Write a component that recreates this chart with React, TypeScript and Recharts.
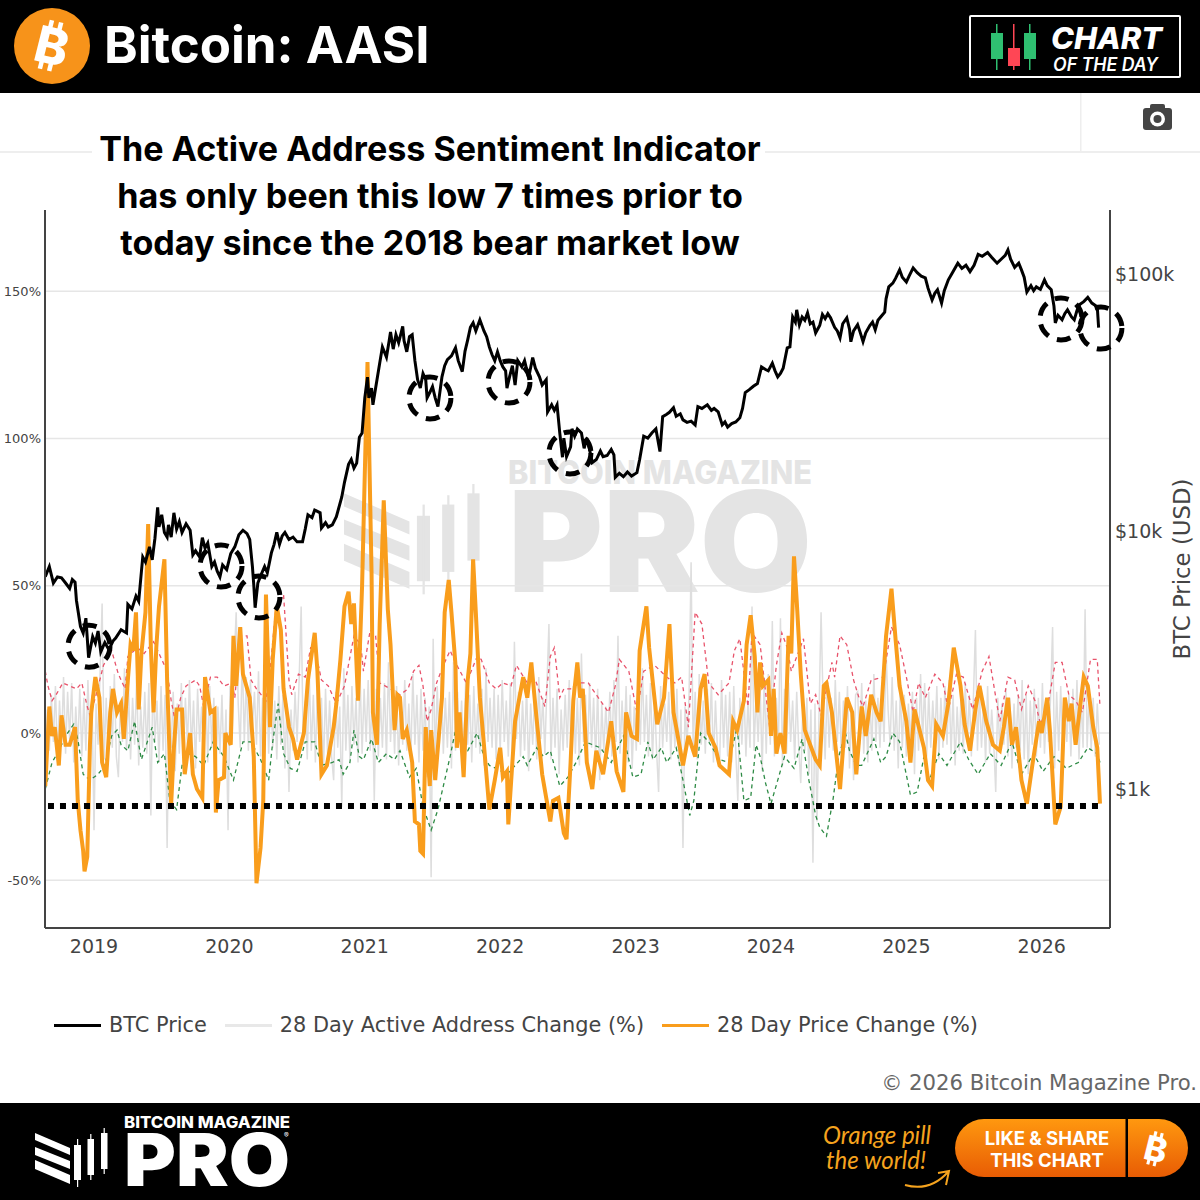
import React from "react";
import {
  ComposedChart,
  Line,
  XAxis,
  YAxis,
  CartesianGrid,
  ReferenceDot,
  Legend,
  Label,
} from "recharts";

const yearTicks = [2019, 2020, 2021, 2022, 2023, 2024, 2025, 2026];
const percentTicks = [-50, 0, 50, 100, 150];
const priceTicks = [1000, 10000, 100000];

// BTC price in thousands of USD
const btcPrice: [number, number][] = [
  [18.64, 6.67], [18.67, 7.3], [18.7, 6.3], [18.73, 6.65], [18.76, 6.6], [18.79, 6.3], [18.82, 6.0], [18.84, 6.5], [18.86, 6.35], [18.87, 5.4],
  [18.9, 4.27], [18.92, 4.03], [18.94, 4.6], [18.96, 3.23], [18.99, 3.9], [19.01, 3.68], [19.03, 4.1], [19.05, 3.4], [19.08, 3.7], [19.11, 3.47],
  [19.14, 3.75], [19.16, 3.85], [19.2, 4.15], [19.24, 4.03], [19.25, 5.2], [19.28, 5.0], [19.31, 5.6], [19.33, 5.35], [19.36, 7.95], [19.38, 7.6],
  [19.41, 8.7], [19.43, 7.75], [19.45, 9.4], [19.47, 12.4], [19.48, 10.4], [19.5, 11.6], [19.52, 9.9], [19.54, 9.5], [19.55, 10.6], [19.57, 9.5],
  [19.59, 11.8], [19.61, 10.2], [19.63, 10.9], [19.65, 9.9], [19.68, 10.7], [19.71, 10.1], [19.73, 8.1], [19.75, 8.4], [19.78, 7.95], [19.8, 9.45],
  [19.82, 8.6], [19.84, 9], [19.87, 7.3], [19.89, 7.6], [19.91, 7.0], [19.93, 6.65], [19.95, 7.4], [19.98, 7.1], [20.01, 8.2], [20.04, 8.7],
  [20.07, 9.7], [20.1, 10.1], [20.13, 9.8], [20.15, 9.3], [20.17, 7.3], [20.18, 6.2], [20.19, 5.05], [20.21, 6.3], [20.23, 6.7], [20.26, 7.3],
  [20.28, 6.9], [20.31, 8.25], [20.33, 8.9], [20.35, 9.9], [20.37, 8.9], [20.39, 9.6], [20.41, 9.9], [20.44, 9.3], [20.47, 9.5], [20.5, 9.1],
  [20.54, 9.1], [20.56, 10.2], [20.58, 11.6], [20.61, 11.3], [20.63, 12.1], [20.67, 11.8], [20.68, 10.3], [20.71, 10.8], [20.73, 10.4], [20.76, 10.6],
  [20.79, 11.4], [20.83, 13.6], [20.85, 15.5], [20.88, 18.2], [20.9, 19], [20.92, 17.6], [20.94, 18.4], [20.96, 23.2], [20.98, 24.1], [21.0, 33],
  [21.02, 39.7], [21.03, 33], [21.05, 36], [21.06, 31], [21.08, 36], [21.11, 45], [21.13, 52], [21.16, 47.5], [21.18, 55], [21.19, 59.5],
  [21.21, 51], [21.23, 58], [21.25, 54], [21.28, 62.5], [21.29, 55], [21.31, 49.8], [21.33, 57], [21.35, 58], [21.37, 46], [21.39, 38.8],
  [21.41, 36], [21.43, 41], [21.45, 38.8], [21.46, 33], [21.48, 34.6], [21.5, 36.5], [21.52, 33], [21.54, 30.5], [21.57, 39.8], [21.59, 44],
  [21.61, 46.4], [21.64, 48], [21.67, 51.6], [21.69, 46], [21.72, 41.7], [21.74, 50], [21.76, 55.4], [21.78, 62], [21.8, 64.5], [21.82, 60],
  [21.85, 66.3], [21.88, 60], [21.9, 57], [21.92, 52], [21.94, 48.5], [21.96, 46], [21.98, 49.8], [22.0, 46], [22.02, 43.5], [22.04, 42],
  [22.05, 36], [22.07, 40], [22.09, 44], [22.11, 37], [22.13, 46], [22.16, 43.5], [22.18, 46], [22.21, 39.5], [22.24, 47.3], [22.26, 43],
  [22.29, 39.8], [22.31, 37], [22.34, 38.8], [22.35, 29.1], [22.38, 31], [22.4, 29.5], [22.42, 31], [22.44, 24.1], [22.46, 19.4], [22.47, 23],
  [22.49, 19.5], [22.52, 21.3], [22.53, 25], [22.55, 23.4], [22.57, 25], [22.6, 24.1], [22.62, 21], [22.64, 23], [22.66, 20.8], [22.68, 18.5],
  [22.71, 19], [22.74, 20.5], [22.76, 19.5], [22.79, 19.7], [22.82, 20.8], [22.84, 19.8], [22.85, 16.2], [22.88, 16.8], [22.91, 16.3], [22.94, 17],
  [22.97, 16.4], [23.01, 16.9], [23.03, 19], [23.06, 23.4], [23.09, 23], [23.12, 24.1], [23.15, 25], [23.18, 20.4], [23.2, 27.9], [23.23, 28.5],
  [23.25, 29], [23.28, 30.2], [23.3, 28], [23.33, 28.6], [23.35, 27.1], [23.38, 26.5], [23.41, 26.8], [23.44, 25.9], [23.46, 30.5], [23.49, 30],
  [23.53, 31], [23.56, 29.5], [23.58, 30], [23.61, 29.1], [23.64, 25.9], [23.66, 26.6], [23.68, 25.4], [23.71, 26.2], [23.74, 26.6], [23.77, 27.6],
  [23.79, 30], [23.81, 34.6], [23.84, 35.5], [23.87, 36.6], [23.9, 37.5], [23.93, 43.5], [23.96, 42.5], [23.98, 42], [24.01, 45], [24.03, 42],
  [24.05, 39.8], [24.07, 41], [24.09, 43], [24.12, 51.6], [24.14, 52], [24.16, 68], [24.18, 65], [24.19, 72.5], [24.21, 63.4], [24.23, 68],
  [24.25, 66], [24.27, 70.5], [24.29, 64], [24.31, 65], [24.33, 59], [24.36, 63], [24.38, 69.5], [24.4, 67], [24.42, 70], [24.44, 67.5],
  [24.47, 62], [24.49, 60], [24.51, 56.4], [24.53, 64], [24.56, 67.5], [24.58, 61], [24.59, 54.5], [24.61, 60], [24.64, 63.5], [24.66, 59],
  [24.68, 54.5], [24.7, 59], [24.73, 63], [24.75, 65], [24.77, 60.6], [24.79, 66], [24.81, 68], [24.84, 71], [24.85, 80], [24.87, 89],
  [24.9, 92], [24.92, 96], [24.95, 103.6], [24.97, 97], [25, 93], [25.02, 98], [25.05, 105.5], [25.08, 101], [25.11, 98], [25.14, 96.5],
  [25.16, 88], [25.19, 79.2], [25.21, 84], [25.23, 86.7], [25.26, 77], [25.28, 86], [25.31, 94.8], [25.34, 101], [25.38, 110], [25.41, 105],
  [25.44, 108], [25.47, 102], [25.5, 108], [25.53, 119], [25.56, 117], [25.6, 121], [25.63, 116], [25.67, 110], [25.7, 114], [25.73, 118],
  [25.75, 124], [25.77, 114], [25.8, 106], [25.83, 110], [25.85, 103.6], [25.87, 97], [25.89, 85], [25.92, 90], [25.94, 86], [25.96, 89],
  [25.99, 87], [26.02, 94.8], [26.04, 90], [26.07, 86.7], [26.09, 75], [26.1, 64.5], [26.12, 69], [26.15, 66.3], [26.17, 70], [26.19, 72.5],
  [26.22, 68], [26.24, 66.3], [26.26, 72], [26.28, 76], [26.31, 78], [26.34, 81], [26.37, 77], [26.41, 74.5], [26.42, 61.8],
];

const priceChange: [number, number][] = [
  [18.64, -18], [18.67, 9], [18.69, -1], [18.71, 2], [18.74, -11], [18.76, 6], [18.79, -4], [18.82, -4], [18.86, 2], [18.88, -23],
  [18.9, -33], [18.92, -40], [18.93, -47], [18.95, -42], [18.97, -4], [18.98, 7], [19.01, 19], [19.04, 12], [19.06, -10], [19.09, -15],
  [19.12, 7], [19.14, 15], [19.17, 7], [19.2, 10], [19.22, -2], [19.25, 18], [19.27, 30], [19.29, 28], [19.31, 41], [19.33, 8],
  [19.35, 27], [19.38, 41], [19.4, 71], [19.42, 29], [19.44, 7], [19.46, 29], [19.48, 43], [19.52, 59], [19.54, 18], [19.57, -24],
  [19.59, -5], [19.61, 8], [19.65, 8], [19.67, -14], [19.71, 0], [19.73, -14], [19.76, -19], [19.8, -22], [19.82, 19], [19.86, 7],
  [19.89, 8], [19.9, -27], [19.92, -16], [19.96, -15], [19.97, 0], [20.01, -4], [20.03, 33], [20.05, 16], [20.08, 36], [20.1, 20],
  [20.15, 12], [20.18, -8], [20.2, -51], [20.23, -39], [20.25, -23], [20.27, 47], [20.3, 2], [20.32, 25], [20.35, 43], [20.38, 35],
  [20.4, 15], [20.44, 2], [20.47, -2], [20.5, -9], [20.55, 0], [20.58, 18], [20.63, 34], [20.65, 21], [20.68, -14], [20.72, -11],
  [20.77, 2], [20.79, 10], [20.82, 25], [20.85, 43], [20.88, 48], [20.9, 37], [20.92, 44], [20.95, 11], [20.98, 50], [21.02, 126],
  [21.05, 54], [21.06, 7], [21.09, -4], [21.11, 37], [21.14, 79], [21.17, 42], [21.19, 30], [21.22, 1], [21.24, 13], [21.26, 12],
  [21.28, -2], [21.31, 1], [21.35, -10], [21.37, -30], [21.4, -31], [21.41, -40], [21.43, -41], [21.45, 2], [21.48, -18], [21.49, 1],
  [21.52, -16], [21.57, 12], [21.59, 41], [21.62, 52], [21.64, 41], [21.67, 23], [21.68, -5], [21.7, 7], [21.73, -15], [21.76, 18],
  [21.78, 27], [21.8, 59], [21.82, 41], [21.85, 12], [21.88, -4], [21.92, -26], [21.96, -16], [22, -5], [22.02, -15], [22.05, -13],
  [22.06, -31], [22.11, 4], [22.17, 19], [22.2, 12], [22.23, 24], [22.26, 9], [22.31, -14], [22.34, -22], [22.37, -30], [22.39, -23],
  [22.43, -22], [22.47, -34], [22.49, -36], [22.52, -10], [22.54, 11], [22.57, 24], [22.59, 12], [22.61, 15], [22.64, -10], [22.68, -19],
  [22.71, -6], [22.76, -14], [22.82, 4], [22.86, -13], [22.91, -20], [22.93, 7], [22.97, -1], [23.01, -2], [23.03, 28], [23.08, 43],
  [23.1, 29], [23.16, 3], [23.21, 12], [23.25, 37], [23.28, 7], [23.3, 2], [23.35, -11], [23.39, -1], [23.44, -8], [23.48, 15],
  [23.51, 20], [23.54, 0], [23.59, -5], [23.62, -11], [23.69, -14], [23.72, 4], [23.75, 1], [23.8, 11], [23.82, 30], [23.85, 40],
  [23.88, 26], [23.9, 7], [23.92, 24], [23.94, 16], [23.98, 18], [24, -1], [24.02, 15], [24.04, -7], [24.07, 0], [24.1, -7],
  [24.13, 33], [24.15, 27], [24.17, 60], [24.19, 45], [24.22, 20], [24.25, 1], [24.29, -4], [24.33, -9], [24.36, -11], [24.39, 16],
  [24.41, 17], [24.45, 7], [24.51, -19], [24.56, 12], [24.6, 7], [24.63, -14], [24.67, 9], [24.7, -1], [24.74, 13], [24.78, 7],
  [24.81, 4], [24.85, 33], [24.89, 49], [24.92, 32], [24.95, 16], [25, 4], [25.03, -10], [25.06, 8], [25.13, -5], [25.16, -16],
  [25.19, -18], [25.22, 3], [25.27, -1], [25.31, 10], [25.35, 29], [25.4, 16], [25.43, 3], [25.47, -6], [25.51, 8], [25.54, 16],
  [25.59, 4], [25.64, -4], [25.69, -6], [25.72, 2], [25.75, 12], [25.78, -4], [25.81, 2], [25.85, -16], [25.89, -24], [25.93, -11],
  [25.98, 4], [26, 0], [26.04, 12], [26.06, 1], [26.1, -31], [26.14, -25], [26.17, 12], [26.2, 4], [26.22, 10], [26.25, -4],
  [26.27, 4], [26.31, 19], [26.34, 16], [26.38, 2], [26.41, -5], [26.43, -24],
];

// upper band of the indicator
const upperBand: [number, number][] = [
  [18.64, 21], [18.66, 16], [18.69, 11], [18.72, 13], [18.77, 17], [18.82, 16], [18.87, 15], [18.91, 17], [18.95, 9], [18.97, 6],
  [19.01, 12], [19.07, 23], [19.13, 28], [19.18, 20], [19.23, 15], [19.25, 26], [19.32, 29], [19.37, 27], [19.44, 31], [19.47, 28],
  [19.54, 21], [19.57, 11], [19.6, 4], [19.64, 12], [19.68, 16], [19.75, 18], [19.78, 16], [19.81, 9], [19.86, 19], [19.91, 19],
  [19.96, 16], [20.02, 17], [20.04, 12], [20.08, 33], [20.13, 33], [20.16, 18], [20.2, 15], [20.27, 11], [20.3, 21], [20.34, 41],
  [20.4, 47], [20.44, 18], [20.46, 13], [20.51, 20], [20.56, 19], [20.6, 29], [20.63, 29], [20.68, 18], [20.73, 16], [20.79, 10],
  [20.85, 16], [20.92, 33], [20.97, 30], [20.99, 21], [21.04, 35], [21.08, 33], [21.11, 17], [21.19, 15], [21.26, 13], [21.32, 15],
  [21.36, 21], [21.4, 23], [21.43, 16], [21.46, 4], [21.49, 8], [21.53, 17], [21.58, 23], [21.63, 28], [21.68, 23], [21.75, 17],
  [21.83, 26], [21.86, 25], [21.92, 17], [21.97, 15], [22.02, 17], [22.08, 16], [22.12, 23], [22.2, 17], [22.26, 18], [22.33, 9],
  [22.37, 26], [22.4, 29], [22.44, 12], [22.47, 15], [22.52, 15], [22.59, 17], [22.65, 17], [22.74, 11], [22.8, 7], [22.85, 16],
  [22.88, 25], [22.95, 21], [23.01, 7], [23.06, 21], [23.14, 23], [23.23, 19], [23.29, 17], [23.34, 19], [23.39, 2], [23.44, 41],
  [23.49, 37], [23.54, 17], [23.61, 13], [23.69, 17], [23.73, 28], [23.77, 32], [23.83, 9], [23.86, 34], [23.92, 30], [23.99, 2],
  [24.04, 23], [24.08, 34], [24.12, 29], [24.15, 21], [24.24, 32], [24.29, 10], [24.33, 13], [24.37, 6], [24.45, 24], [24.47, 19],
  [24.51, 33], [24.56, 30], [24.61, 18], [24.65, 12], [24.68, 9], [24.74, 18], [24.83, 19], [24.89, 36], [24.95, 30], [25, 19],
  [25.05, 7], [25.09, 17], [25.14, 12], [25.21, 20], [25.27, 17], [25.31, 8], [25.37, 20], [25.42, 19], [25.49, 8], [25.56, 21],
  [25.61, 26], [25.69, 4], [25.75, 19], [25.8, 18], [25.85, 8], [25.9, 16], [25.95, 11], [25.99, 3], [26.04, 8], [26.1, 24],
  [26.15, 24], [26.2, 13], [26.25, 11], [26.3, 7], [26.36, 25], [26.41, 25], [26.43, 9],
];

// lower band of the indicator
const lowerBand: [number, number][] = [
  [18.64, -19], [18.69, -10], [18.74, -6], [18.79, -1], [18.85, 3], [18.88, -2], [18.92, -14], [18.97, -16], [19.03, -14], [19.08, -11],
  [19.13, -1], [19.17, 1], [19.2, -4], [19.25, -6], [19.3, 4], [19.35, -9], [19.43, 2], [19.47, -10], [19.52, -7], [19.56, -23],
  [19.61, -26], [19.65, -11], [19.7, -7], [19.75, -8], [19.81, -11], [19.88, -3], [19.96, -8], [20.03, -16], [20.1, -3], [20.16, -3],
  [20.23, -9], [20.29, -16], [20.32, -3], [20.36, 10], [20.4, -7], [20.45, -12], [20.5, -13], [20.56, -3], [20.63, -3], [20.68, -11],
  [20.76, -10], [20.81, -9], [20.84, -14], [20.89, -10], [20.92, 1], [20.96, -8], [20.99, -9], [21.05, -2], [21.1, -10], [21.16, -7],
  [21.22, -9], [21.26, -6], [21.33, -15], [21.38, -12], [21.43, -25], [21.49, -33], [21.54, -26], [21.58, -18], [21.63, -8], [21.67, 1],
  [21.73, -5], [21.76, -6], [21.83, 0], [21.88, -8], [21.92, -11], [21.97, -12], [22.05, -14], [22.11, -11], [22.17, -8], [22.2, -11],
  [22.27, -5], [22.32, -8], [22.37, -6], [22.44, -18], [22.5, -15], [22.56, -10], [22.63, -3], [22.74, -5], [22.82, -10], [22.91, -1],
  [22.98, -15], [23.04, -14], [23.09, -3], [23.13, -9], [23.19, -5], [23.23, -10], [23.3, -5], [23.35, -16], [23.4, -28], [23.43, -23],
  [23.48, 0], [23.54, -3], [23.62, -9], [23.69, -10], [23.75, 2], [23.8, -23], [23.85, -22], [23.89, -4], [23.92, -8], [23.96, -17],
  [24, -24], [24.05, -16], [24.1, -8], [24.17, -12], [24.23, -2], [24.28, -16], [24.33, -28], [24.36, -32], [24.41, -35], [24.46, -22],
  [24.5, -8], [24.55, 0], [24.58, -6], [24.63, -11], [24.67, -11], [24.76, -2], [24.81, -10], [24.85, -8], [24.9, 0], [24.95, -3],
  [25.03, -21], [25.08, -20], [25.13, -8], [25.17, -16], [25.24, -7], [25.3, -11], [25.4, -3], [25.46, -9], [25.53, -14], [25.62, -7],
  [25.7, -11], [25.78, -3], [25.85, -14], [25.94, -7], [26.01, -13], [26.09, -8], [26.14, -10], [26.18, -12], [26.27, -10], [26.34, -5],
  [26.41, -7], [26.43, -10],
];

// one reading every 0.015 of a year from 18.64 on
const activeStart = 18.64;
const activeStep = 0.015;
const activeChange = [
  -12, 8, -6, 13, -3, 16, -9, 11, -4, 19, -7, 14, -2, 17, -10, 9, -5, 15, -8, 12,
  -6, 18, -3, 13, -33, 10, -4, 21, 44, -9, 12, -7, 16, -5, 20, -8, -15, 11, -3, 22,
  -6, 15, -9, 12, -4, 19, -11, 9, -5, 14, -7, 17, -28, 20, -3, 11, -10, 16, -6, 13,
  -39, 8, -5, 14, -13, 10, -7, 17, -9, 12, -4, 18, -6, 11, -12, 15, -3, 9, -8, 14,
  -10, 16, -5, 12, -15, 9, -7, 13, -11, 8, -33, 16, -2, 24, 41, 10, -5, 26, -3, 19,
  -6, 18, 2, 14, -4, 21, -8, 12, -3, 17, -7, 15, -5, 11, -9, 16, -4, 13, -12, 10,
  -20, 8, -6, 14, -3, 18, 43, -4, 11, -9, 20, -6, 13, -10, 17, -5, 12, -12, 15, -7,
  11, -8, -16, 14, -5, 9, -25, 22, -6, 13, -9, 16, -4, 12, -10, 20, -7, 15, -3, 18,
  -6, 14, -23, 15, -8, 12, -5, 17, -9, 24, -3, 13, -7, 16, -11, 12, -4, 18, -6, 10,
  -8, 20, -4, 13, -10, 15, -6, 12, -15, 9, -49, 32, -10, 16, -4, 19, -7, 12, -5, 14,
  -12, 24, -6, 14, -3, 11, -8, 18, -4, 13, -10, 16, -5, 10, -7, 15, -11, 22, -3, 12,
  -5, 15, -9, 13, -6, 18, -3, 11, -8, 17, -12, 31, -2, 14, -8, 11, -6, 16, -13, 10,
  -4, 14, -9, 19, -2, 12, -7, 16, 37, -9, 12, -5, 15, -14, 8, -6, 13, -5, 18, -10,
  16, -7, 12, -11, 27, -3, 13, -8, 17, -5, 12, -9, 15, -16, 10, -6, 9, -4, 14, -8,
  18, -3, 33, -7, 11, -5, 16, -10, 13, -12, 9, -6, 14, -4, 22, -3, 13, -8, 17, -9,
  12, -6, -20, 16, -5, 10, -3, 14, -9, 12, -5, 15, -11, 8, -39, 9, -4, 13, 58, -6,
  14, -9, 20, -4, 11, -7, 15, -3, 17, -10, 11, -6, -12, 18, -5, 13, -8, 14, -10, 16,
  -6, -23, 12, -4, 15, -8, 11, -5, 43, -6, 13, -3, 16, -13, 19, -7, 20, -4, 38, -8,
  12, -4, 39, -11, 15, -7, 17, -3, 11, -9, 14, -5, -17, 9, -6, 12, -14, 8, -44, 10,
  -30, 7, 41, 10, -9, 15, -5, 12, -6, 18, -3, 14, -8, 11, -5, 16, -12, 9, -16, 13,
  14, -4, 17, -7, 11, -10, 13, -6, 20, -3, 12, -5, 16, -3, 28, 8, -4, 19, -6, 11,
  -12, 15, -5, 13, -8, 10, -3, 14, -14, 12, -6, 20, -3, 17, -8, 14, -5, 11, -3, 16,
  -9, 12, -5, 16, -4, 18, -7, 13, -11, 9, -6, 14, -7, 17, -3, 13, -8, 12, 35, -6,
  14, -5, 11, -10, 16, -7, 8, -3, -20, 12, -6, 10, -4, 15, -8, 12, -12, 10, -5, 13,
  -6, 18, -9, 13, -14, 11, -4, 15, -8, 12, -5, 17, -7, 9, -3, 12, 36, -12, 14, -6,
  16, -7, 11, -3, 13, -8, 15, -4, 18, -9, 12, -5, 42, -5, 14, -6, 12, -8, 10, -4,
];

const floorLevel: [number, number][] = [[18.66, -24.8], [26.43, -24.8]];

// the eight lows ringed on the chart
const ringedLows: [number, number][] = [
  [18.963, 29.5], [19.938, 56.7], [20.218, 46.2], [21.481, 113.8],
  [22.065, 119.2], [22.515, 95.1], [26.142, 140.6], [26.437, 137.5],
];

const legendOrder = ["BTC Price", "28 Day Active Address Change (%)", "28 Day Price Change (%)"];
const headline = [
  "The Active Address Sentiment Indicator",
  "has only been this low 7 times prior to",
  "today since the 2018 bear market low",
];

const toRows = (list: [number, number][]) => list.map(([x, y]) => ({ x: 2000 + x, y }));
const priceRows = btcPrice.map(([x, y]) => ({ x: 2000 + x, y: y * 1000 }));
const activeRows = activeChange.map((y, i) => ({ x: 2000 + activeStart + i * activeStep, y }));

const SANS = "'DejaVu Sans'";
const HEAD = "Inter";
const AXIS_COLOR = "#444";

const ChartLegend = ({ payload }: any) => {
  const items = legendOrder.map((n) => (payload || []).find((p: any) => p.value === n)).filter(Boolean);
  return (
    <div style={{ display: "flex", gap: 18, alignItems: "center", fontFamily: SANS, fontSize: 20.85, color: AXIS_COLOR }}>
      {items.map((p: any) => (
        <div key={p.value} style={{ display: "flex", alignItems: "center", gap: 8 }}>
          <span style={{ width: 47, height: 3, background: p.color === "#dedede" ? "#e8e8e8" : p.color, display: "inline-block" }} />
          <span>{p.value}</span>
        </div>
      ))}
    </div>
  );
};

// stripes and candles of the logo, 72 wide and 59 high before scaling
const LogoMark = ({ x, y, scale, fill }: { x: number; y: number; scale: number; fill: string }) => (
  <g transform={`translate(${x} ${y}) scale(${scale})`} fill={fill}>
    <polygon points="0,5 35,20 35,27 0,12" />
    <polygon points="0,19 35,33 35,41 0,27" />
    <polygon points="0,32 35,47 35,56 0,41" />
    <rect x={39} y={17} width={7} height={35} />
    <rect x={42} y={11} width={1.2} height={48} />
    <rect x={52.5} y={11} width={6.5} height={36} />
    <rect x={55.2} y={6} width={1.2} height={46} />
    <rect x={66} y={5} width={6.5} height={36} />
    <rect x={68.6} y={0} width={1.2} height={46} />
  </g>
);

const BitcoinGlyph = ({ x, y, size }: { x: number; y: number; size: number }) => (
  <g transform={`translate(${x} ${y}) rotate(14)`} fill="#fff">
    <text x={0} y={size * 0.36} textAnchor="middle" fontFamily={HEAD} fontWeight={800} fontSize={size}>B</text>
    <rect x={-size * 0.17} y={-size * 0.5} width={size * 0.09} height={size * 0.16} />
    <rect x={size * 0.02} y={-size * 0.5} width={size * 0.09} height={size * 0.16} />
    <rect x={-size * 0.17} y={size * 0.34} width={size * 0.09} height={size * 0.16} />
    <rect x={size * 0.02} y={size * 0.34} width={size * 0.09} height={size * 0.16} />
  </g>
);

const Watermark = () => (
  <svg width={1200} height={1200} style={{ position: "absolute", left: 0, top: 0 }}>
    <LogoMark x={344} y={484} scale={1.87} fill="#e4e4e4" />
    <text x={508} y={484} fontFamily={HEAD} fontWeight={800} fontSize={33} fill="#e4e4e4" textLength={304} lengthAdjust="spacingAndGlyphs">BITCOIN MAGAZINE</text>
    <text x={508} y={592} fontFamily={HEAD} fontWeight={900} fontSize={140} fill="#e4e4e4" textLength={304} lengthAdjust="spacingAndGlyphs">PRO</text>
  </svg>
);

const Frame = () => (
  <svg width={1200} height={1200} style={{ position: "absolute", left: 0, top: 0, pointerEvents: "none" }}>
    <defs>
      <linearGradient id="btn" x1="0" y1="0" x2="0" y2="1">
        <stop offset="0" stopColor="#ff980f" />
        <stop offset="1" stopColor="#e85c04" />
      </linearGradient>
    </defs>
    {/* header */}
    <rect x={0} y={0} width={1200} height={93} fill="#000" />
    <circle cx={52} cy={46} r={38} fill="#f7931a" />
    <BitcoinGlyph x={52} y={46} size={50} />
    <text x={104} y={63} fontFamily={HEAD} fontWeight={700} fontSize={51} fill="#fff">Bitcoin: AASI</text>
    <rect x={970} y={16} width={210} height={61} fill="none" stroke="#fff" strokeWidth={2} rx={1} />
    <rect x={996} y={24} width={1.5} height={46} fill="#2fbf71" />
    <rect x={991} y={33} width={12} height={26} fill="#2fbf71" />
    <rect x={1013} y={24} width={1.5} height={46} fill="#ff4655" />
    <rect x={1008} y={48} width={12} height={18} fill="#ff4655" />
    <rect x={1029} y={24} width={1.5} height={46} fill="#2fbf71" />
    <rect x={1024} y={33} width={12} height={26} fill="#2fbf71" />
    <text x={1051} y={49} fontFamily={HEAD} fontWeight={800} fontStyle="italic" fontSize={30} fill="#fff" textLength={111} lengthAdjust="spacingAndGlyphs">CHART</text>
    <text x={1053} y={71} fontFamily={HEAD} fontWeight={600} fontStyle="italic" fontSize={18} fill="#fff" textLength={105} lengthAdjust="spacingAndGlyphs">OF THE DAY</text>

    {/* toolbar */}
    <rect x={0} y={151} width={92} height={2} fill="#eee" />
    <rect x={765} y={151} width={435} height={2} fill="#eee" />
    <rect x={1080} y={93} width={1.5} height={58} fill="#eee" />
    <rect x={1143} y={108} width={29} height={22} rx={3} fill="#444" />
    <rect x={1150} y={104} width={15} height={6} rx={2} fill="#444" />
    <circle cx={1157.5} cy={119} r={7.5} fill="#fff" />
    <circle cx={1157.5} cy={119} r={4} fill="#444" />

    {/* annotation */}
    {headline.map((t, i) => (
      <text key={t} x={430} y={161 + i * 47} textAnchor="middle" fontFamily={HEAD} fontWeight={700} fontSize={34.1} fill="#000">{t}</text>
    ))}

    <text x={1197} y={1090} textAnchor="end" fontFamily={SANS} fontSize={21.2} fill="#666">© 2026 Bitcoin Magazine Pro.</text>

    {/* footer */}
    <rect x={0} y={1103} width={1200} height={97} fill="#000" />
    <LogoMark x={35} y={1128} scale={1} fill="#fff" />
    <text x={124} y={1128} fontFamily={HEAD} fontWeight={800} fontSize={16} fill="#fff" textLength={166} lengthAdjust="spacingAndGlyphs">BITCOIN MAGAZINE</text>
    <text x={124} y={1186} fontFamily={HEAD} fontWeight={900} fontSize={73} fill="#fff" textLength={166} lengthAdjust="spacingAndGlyphs">PRO</text>
    <text x={284} y={1138} fontFamily={HEAD} fontSize={7} fill="#fff">®</text>
    <text x={823} y={1144} fontFamily="Lato" fontStyle="italic" fontSize={25} fill="#f5a31e" textLength={108} lengthAdjust="spacingAndGlyphs">Orange pill</text>
    <text x={826} y={1169} fontFamily="Lato" fontStyle="italic" fontSize={25} fill="#f5a31e" textLength={100} lengthAdjust="spacingAndGlyphs">the world!</text>
    <path d="M905 1185 Q930 1192 948 1172 M938 1173 L949 1171 L946 1185" fill="none" stroke="#f5a31e" strokeWidth={2} />
    <rect x={955} y={1119} width={233} height={58} rx={29} fill="url(#btn)" />
    <rect x={1125.5} y={1119} width={2.5} height={58} fill="#000" />
    <text x={1047} y={1145} textAnchor="middle" fontFamily={HEAD} fontWeight={700} fontSize={18.5} fill="#fff">LIKE &amp; SHARE</text>
    <text x={1047} y={1167} textAnchor="middle" fontFamily={HEAD} fontWeight={700} fontSize={18.5} fill="#fff">THIS CHART</text>
    <BitcoinGlyph x={1156} y={1149} size={34} />
  </svg>
);

export default function App() {
  return (
    <div style={{ position: "absolute", left: 0, top: 0, width: 1200, height: 1200, background: "#fff", overflow: "hidden" }}>
      <Watermark />
      <div style={{ position: "absolute", left: 0, top: 0 }}>
        <ComposedChart width={1200} height={1200} margin={{ top: 210, right: 0, bottom: 232, left: 0 }}>
          <CartesianGrid yAxisId="pct" horizontal vertical={false} syncWithTicks stroke="#e6e6e6" strokeWidth={1.5} />
          <XAxis
            type="number"
            dataKey="x"
            domain={[2018.638, 2026.504]}
            allowDataOverflow
            ticks={yearTicks}
            height={40}
            tickLine={false}
            axisLine={{ stroke: AXIS_COLOR, strokeWidth: 2 }}
            tick={{ fontFamily: SANS, fontSize: 19, fill: AXIS_COLOR }}
            tickMargin={6}
          />
          <YAxis
            yAxisId="pct"
            type="number"
            width={45}
            domain={[-66.2, 177.6]}
            allowDataOverflow
            ticks={percentTicks}
            tickFormatter={(v: number) => `${v}%`}
            tickLine={false}
            tickSize={4}
            axisLine={{ stroke: AXIS_COLOR, strokeWidth: 2 }}
            tick={{ fontFamily: SANS, fontSize: 13, fill: AXIS_COLOR }}
            tickMargin={0}
          />
          <YAxis
            yAxisId="usd"
            orientation="right"
            type="number"
            scale="log"
            width={90}
            domain={[288, 177000]}
            allowDataOverflow
            ticks={priceTicks}
            tickFormatter={(v: number) => `$${v / 1000}k`}
            tickLine={false}
            tickSize={5}
            axisLine={{ stroke: AXIS_COLOR, strokeWidth: 2 }}
            tick={{ fontFamily: SANS, fontSize: 19, fill: AXIS_COLOR }}
            tickMargin={0}
          >
            <Label
              value="BTC Price (USD)"
              angle={-90}
              position="insideRight"
              offset={18}
              style={{ fontFamily: SANS, fontSize: 22.8, fill: AXIS_COLOR, textAnchor: "middle" }}
            />
          </YAxis>
          <Line name="28 Day Active Address Change (%)" data={activeRows} yAxisId="pct" dataKey="y" stroke="#dedede" strokeWidth={1.5} dot={false} isAnimationActive={false} />
          <Line data={toRows(upperBand)} yAxisId="pct" dataKey="y" stroke="#e8536b" strokeWidth={1.3} strokeDasharray="4 3.5" dot={false} legendType="none" isAnimationActive={false} />
          <Line data={toRows(lowerBand)} yAxisId="pct" dataKey="y" stroke="#2e8b45" strokeWidth={1.3} strokeDasharray="4 3.5" dot={false} legendType="none" isAnimationActive={false} />
          <Line name="28 Day Price Change (%)" data={toRows(priceChange)} yAxisId="pct" dataKey="y" stroke="#f99d1c" strokeWidth={4} dot={false} isAnimationActive={false} />
          <Line name="BTC Price" data={priceRows} yAxisId="usd" dataKey="y" stroke="#000" strokeWidth={3} dot={false} isAnimationActive={false} />
          <Line data={toRows(floorLevel)} yAxisId="pct" dataKey="y" stroke="#000" strokeWidth={6} strokeDasharray="6 6" dot={false} legendType="none" isAnimationActive={false} />
          {ringedLows.map(([x, y]) => (
            <ReferenceDot
              key={x}
              yAxisId="pct"
              x={2000 + x}
              y={y}
              r={21}
              fill="none"
              stroke="#000"
              strokeWidth={5}
              strokeDasharray="14 9"
              ifOverflow="visible"
            />
          ))}
          <Legend
            layout="horizontal"
            verticalAlign="middle"
            align="center"
            content={<ChartLegend />}
            wrapperStyle={{ position: "absolute", left: 54, top: 1013, width: 1000 }}
          />
        </ComposedChart>
      </div>
      <Frame />
    </div>
  );
}
